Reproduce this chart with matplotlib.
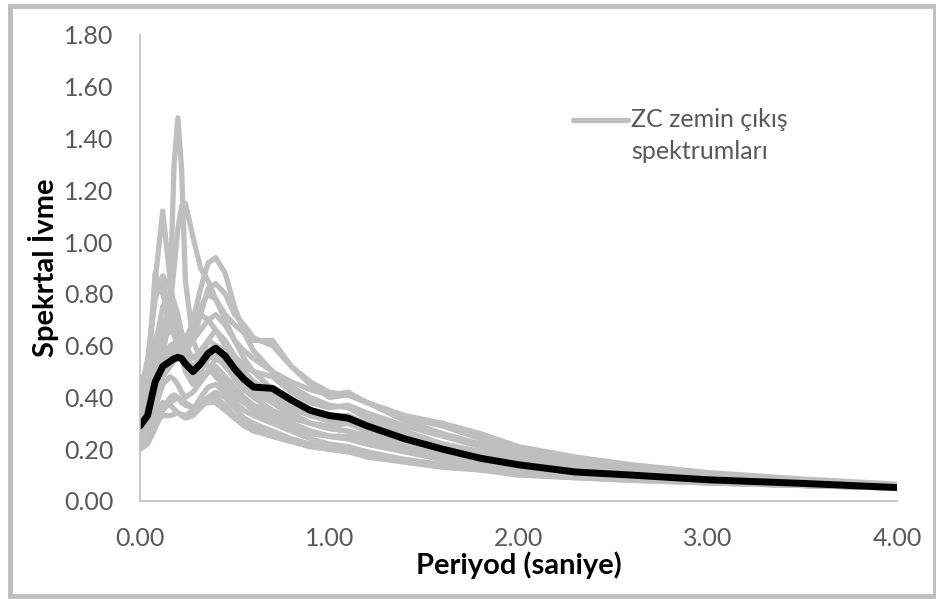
import matplotlib.pyplot as plt
from matplotlib.lines import Line2D
from matplotlib.patches import Rectangle

plt.rcParams['font.family'] = ['Lato', 'DejaVu Sans']

# periods (s)
period = [0, 0.04, 0.08, 0.12, 0.16, 0.18, 0.20, 0.22, 0.24, 0.28, 0.32, 0.36, 0.40, 0.45, 0.50, 0.55,
          0.60, 0.70, 0.80, 0.90, 1.0, 1.1, 1.2, 1.4, 1.6, 1.8, 2.0, 2.3, 2.6, 3.0, 3.5, 4.0]

# individual ZC output spectra
g1 = [0.30, 0.33, 0.45, 0.62, 0.82, 1.30, 1.48, 1.28, 0.85, 0.62, 0.55, 0.52, 0.48, 0.44, 0.40, 0.38,
      0.36, 0.33, 0.30, 0.27, 0.25, 0.24, 0.22, 0.19, 0.16, 0.14, 0.12, 0.10, 0.09, 0.075, 0.065, 0.055]
g2 = [0.35, 0.50, 0.85, 1.12, 0.85, 0.72, 0.62, 0.58, 0.55, 0.50, 0.52, 0.55, 0.56, 0.52, 0.48, 0.45,
      0.42, 0.38, 0.34, 0.30, 0.28, 0.27, 0.25, 0.21, 0.18, 0.155, 0.13, 0.11, 0.095, 0.08, 0.065, 0.055]
g3 = [0.28, 0.35, 0.45, 0.55, 0.75, 0.90, 1.05, 1.14, 1.15, 1.02, 0.90, 0.85, 0.78, 0.70, 0.62, 0.55,
      0.50, 0.43, 0.38, 0.34, 0.32, 0.31, 0.28, 0.24, 0.20, 0.17, 0.15, 0.12, 0.10, 0.085, 0.07, 0.06]
g4 = [0.25, 0.30, 0.40, 0.48, 0.52, 0.54, 0.55, 0.57, 0.60, 0.70, 0.82, 0.92, 0.94, 0.88, 0.75, 0.65,
      0.58, 0.50, 0.44, 0.40, 0.37, 0.36, 0.32, 0.27, 0.22, 0.19, 0.16, 0.13, 0.11, 0.09, 0.07, 0.06]
g5 = [0.40, 0.55, 0.78, 0.87, 0.82, 0.76, 0.70, 0.65, 0.60, 0.55, 0.58, 0.62, 0.60, 0.55, 0.50, 0.46,
      0.43, 0.40, 0.36, 0.33, 0.31, 0.30, 0.28, 0.24, 0.20, 0.17, 0.15, 0.12, 0.10, 0.085, 0.07, 0.055]
g6 = [0.30, 0.36, 0.48, 0.55, 0.60, 0.61, 0.62, 0.60, 0.58, 0.62, 0.72, 0.82, 0.84, 0.80, 0.72, 0.68,
      0.63, 0.60, 0.52, 0.46, 0.42, 0.41, 0.38, 0.31, 0.26, 0.22, 0.19, 0.15, 0.12, 0.095, 0.075, 0.06]
g7 = [0.22, 0.24, 0.30, 0.33, 0.33, 0.335, 0.34, 0.335, 0.33, 0.35, 0.40, 0.44, 0.45, 0.42, 0.38, 0.35,
      0.33, 0.30, 0.27, 0.24, 0.22, 0.21, 0.19, 0.16, 0.14, 0.12, 0.11, 0.095, 0.085, 0.07, 0.06, 0.05]
g8 = [0.20, 0.22, 0.28, 0.35, 0.38, 0.39, 0.40, 0.39, 0.38, 0.36, 0.38, 0.40, 0.42, 0.40, 0.36, 0.32,
      0.30, 0.27, 0.24, 0.22, 0.20, 0.19, 0.17, 0.15, 0.13, 0.12, 0.10, 0.09, 0.08, 0.07, 0.06, 0.05]
g9 = [0.47, 0.50, 0.62, 0.70, 0.68, 0.65, 0.62, 0.58, 0.55, 0.52, 0.55, 0.58, 0.60, 0.57, 0.52, 0.48,
      0.45, 0.42, 0.38, 0.35, 0.33, 0.33, 0.30, 0.26, 0.22, 0.19, 0.165, 0.135, 0.11, 0.09, 0.07, 0.06]
g10 = [0.32, 0.40, 0.60, 0.75, 0.80, 0.77, 0.72, 0.65, 0.58, 0.50, 0.52, 0.56, 0.58, 0.55, 0.50, 0.46,
       0.42, 0.38, 0.33, 0.30, 0.28, 0.27, 0.25, 0.21, 0.18, 0.16, 0.14, 0.115, 0.095, 0.08, 0.065, 0.055]
g11 = [0.28, 0.32, 0.42, 0.50, 0.55, 0.565, 0.58, 0.60, 0.62, 0.68, 0.72, 0.70, 0.66, 0.60, 0.56, 0.52,
       0.50, 0.48, 0.42, 0.38, 0.36, 0.37, 0.34, 0.29, 0.25, 0.21, 0.18, 0.14, 0.12, 0.095, 0.075, 0.06]
g12 = [0.30, 0.34, 0.45, 0.52, 0.56, 0.58, 0.60, 0.615, 0.63, 0.68, 0.75, 0.80, 0.78, 0.72, 0.68, 0.65,
       0.62, 0.62, 0.52, 0.45, 0.40, 0.41, 0.38, 0.32, 0.29, 0.24, 0.20, 0.16, 0.13, 0.10, 0.08, 0.06]
g13 = [0.24, 0.27, 0.33, 0.38, 0.37, 0.355, 0.34, 0.33, 0.32, 0.33, 0.36, 0.39, 0.40, 0.37, 0.33, 0.30,
       0.28, 0.25, 0.23, 0.21, 0.20, 0.19, 0.18, 0.155, 0.135, 0.12, 0.105, 0.09, 0.08, 0.07, 0.06, 0.05]
g14 = [0.26, 0.30, 0.40, 0.50, 0.58, 0.60, 0.62, 0.59, 0.55, 0.48, 0.46, 0.50, 0.55, 0.53, 0.47, 0.43,
       0.40, 0.35, 0.32, 0.30, 0.29, 0.30, 0.27, 0.23, 0.19, 0.165, 0.14, 0.115, 0.10, 0.08, 0.065, 0.055]
g15 = [0.33, 0.45, 0.88, 0.80, 0.70, 0.65, 0.60, 0.55, 0.50, 0.45, 0.48, 0.50, 0.52, 0.48, 0.44, 0.40,
       0.37, 0.34, 0.30, 0.27, 0.25, 0.24, 0.22, 0.19, 0.16, 0.14, 0.125, 0.105, 0.09, 0.075, 0.06, 0.05]
g16 = [0.27, 0.32, 0.50, 0.62, 0.66, 0.64, 0.60, 0.56, 0.52, 0.48, 0.50, 0.55, 0.60, 0.58, 0.54, 0.50,
       0.46, 0.40, 0.36, 0.33, 0.31, 0.30, 0.27, 0.23, 0.19, 0.165, 0.14, 0.115, 0.10, 0.08, 0.065, 0.055]
g17 = [0.36, 0.42, 0.58, 0.68, 0.72, 0.70, 0.66, 0.62, 0.60, 0.62, 0.66, 0.70, 0.72, 0.68, 0.62, 0.58,
       0.55, 0.50, 0.46, 0.43, 0.41, 0.42, 0.38, 0.33, 0.30, 0.26, 0.21, 0.17, 0.14, 0.11, 0.085, 0.065]
g18 = [0.25, 0.28, 0.36, 0.45, 0.48, 0.47, 0.45, 0.42, 0.40, 0.42, 0.46, 0.50, 0.50, 0.46, 0.42, 0.38,
       0.35, 0.31, 0.28, 0.26, 0.25, 0.25, 0.23, 0.20, 0.17, 0.145, 0.125, 0.105, 0.09, 0.075, 0.062, 0.052]
g19 = [0.38, 0.52, 0.80, 0.84, 0.74, 0.66, 0.60, 0.56, 0.52, 0.50, 0.55, 0.62, 0.66, 0.62, 0.56, 0.50,
       0.46, 0.42, 0.37, 0.34, 0.32, 0.32, 0.29, 0.25, 0.21, 0.18, 0.155, 0.125, 0.105, 0.085, 0.068, 0.055]
g20 = [0.21, 0.23, 0.30, 0.36, 0.40, 0.41, 0.40, 0.38, 0.37, 0.36, 0.37, 0.38, 0.38, 0.35, 0.32, 0.29,
       0.27, 0.25, 0.23, 0.21, 0.20, 0.20, 0.18, 0.16, 0.14, 0.125, 0.11, 0.095, 0.085, 0.07, 0.06, 0.05]
spectra = [g1, g2, g3, g4, g5, g6, g7, g8, g9, g10, g11, g12, g13, g14, g15, g16, g17, g18, g19, g20]

# mean spectrum (black)
mean_sa = [0.29, 0.33, 0.46, 0.52, 0.54, 0.55, 0.555, 0.55, 0.53, 0.50, 0.53, 0.57, 0.59, 0.56, 0.51, 0.47,
           0.44, 0.435, 0.39, 0.35, 0.33, 0.32, 0.29, 0.24, 0.20, 0.165, 0.14, 0.112, 0.10, 0.082, 0.068, 0.052]

yticks = [0, 0.2, 0.4, 0.6, 0.8, 1.0, 1.2, 1.4, 1.6, 1.8]
xticks = [0, 1, 2, 3, 4]

gray = '#BFBFBF'
txt = '#595959'

fig = plt.figure(figsize=(9.37, 5.99), dpi=100)
ax = fig.add_axes([140/937, 1-501/599, 757/937, 466/599])

for s in spectra:
    ax.plot(period, s, color=gray, lw=3.8, solid_joinstyle='round', solid_capstyle='round')
ax.plot(period, mean_sa, color='black', lw=5.0, solid_joinstyle='round', solid_capstyle='round')

ax.set_xlim(0, 4)
ax.set_ylim(0, 1.8)
ax.set_xticks(xticks)
ax.set_yticks(yticks)
ax.set_xticklabels(['%.2f' % v for v in xticks])
ax.set_yticklabels(['%.2f' % v for v in yticks])
ax.tick_params(length=0, labelsize=18, labelcolor=txt)
ax.tick_params(axis='y', pad=19)
ax.tick_params(axis='x', pad=19)
for sp in ['top', 'right']:
    ax.spines[sp].set_visible(False)
for sp in ['left', 'bottom']:
    ax.spines[sp].set_color(gray)
    ax.spines[sp].set_linewidth(1.2)

ax.set_xlabel('Periyod (saniye)', fontsize=21, fontweight='bold', color='black', labelpad=1)
ax.set_ylabel('Spekrtal İvme', fontsize=21, fontweight='bold', color='black', labelpad=4)

# legend
fig.add_artist(Line2D([573/937, 628/937], [1-120/599, 1-120/599], color=gray, lw=3.8,
                      solid_capstyle='round'))
fig.text(631/937, 1-108/599, 'ZC zemin çıkış\nspektrumları', fontsize=18, color=txt,
         va='top', ha='left', linespacing=1.45, transform=fig.transFigure)

# chart frame
fig.add_artist(Rectangle((10/937, 3/599), 925/937, 590/599, transform=fig.transFigure,
                         fill=False, edgecolor=gray, lw=3.5))

fig.savefig('out.png', dpi=100)
